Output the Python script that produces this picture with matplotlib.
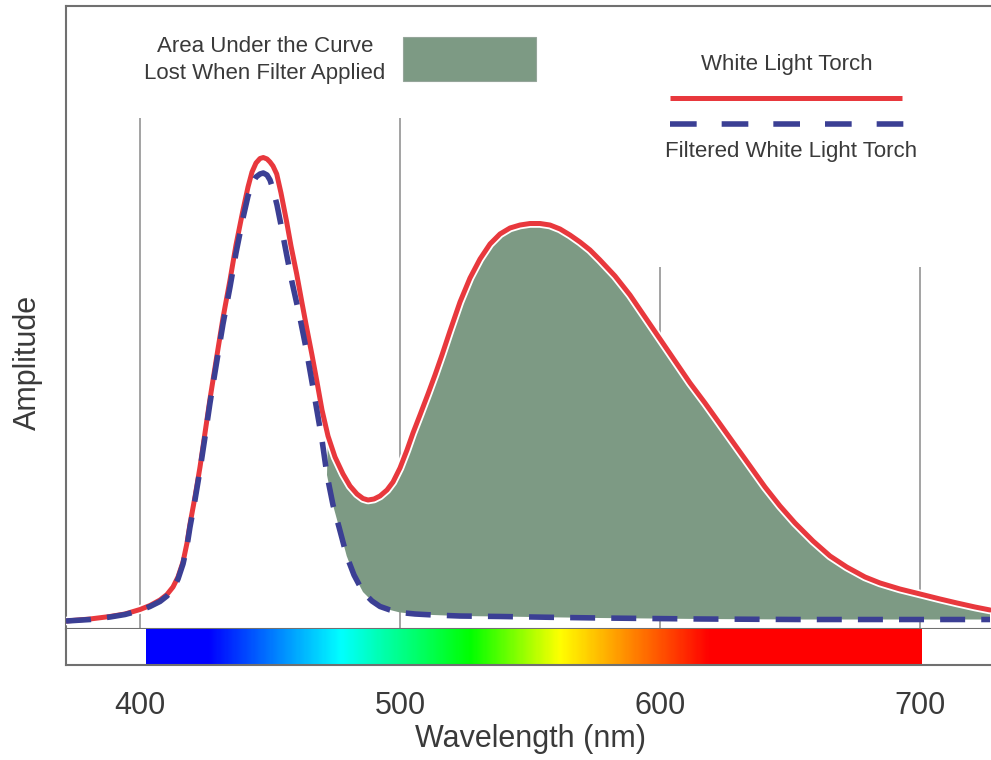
import numpy as np
import matplotlib
matplotlib.use("Agg")
import matplotlib.pyplot as plt
from matplotlib.colors import LinearSegmentedColormap
from matplotlib.lines import Line2D
from matplotlib.patches import Rectangle

plt.rcParams['font.family'] = ['Liberation Sans', 'DejaVu Sans']

# ---------------- data ----------------
white_nm = [371.54, 380.77, 388.46, 394.23, 400.00, 403.85, 407.69, 410.38, 412.69, 414.62,
            416.54, 418.08, 419.23, 421.15, 423.08, 425.00, 426.92, 429.50, 431.92, 434.62,
            436.92, 439.62, 441.54, 443.08, 444.62, 446.15, 447.42, 448.85, 450.00, 451.15,
            452.58, 454.23, 456.42, 458.08, 460.27, 462.31, 464.12, 466.15, 468.08, 470.00,
            472.31, 475.00, 478.08, 480.77, 483.46, 485.77, 487.69, 490.00, 492.31, 495.00,
            497.31, 500.00, 502.69, 505.00, 507.69, 510.77, 513.46, 516.15, 519.23, 523.08,
            526.92, 530.77, 534.62, 538.46, 542.31, 546.15, 550.00, 553.85, 557.69, 561.54,
            565.38, 569.23, 573.08, 576.92, 582.69, 588.46, 594.23, 600.00, 605.77, 611.54,
            617.31, 623.08, 628.85, 634.62, 640.38, 646.15, 651.92, 658.85, 665.38, 671.81,
            678.85, 684.62, 692.31, 700.00, 707.69, 714.23, 721.15, 726.92]
white_amp = [1.69, 2.12, 2.65, 3.18, 4.13, 4.98, 6.14, 7.31, 8.90, 11.02,
             14.19, 18.22, 22.25, 27.97, 34.32, 41.53, 48.73, 57.63, 65.89, 73.94,
             81.36, 88.77, 93.64, 96.82, 98.73, 99.68, 99.89, 99.58, 98.94, 98.09,
             96.40, 92.37, 86.23, 81.14, 75.21, 69.07, 63.77, 58.05, 52.33, 46.40,
             40.89, 36.44, 32.84, 30.30, 28.60, 27.65, 27.33, 27.54, 28.18, 29.45,
             31.14, 34.11, 37.92, 41.53, 45.34, 49.79, 53.81, 58.05, 63.14, 69.28,
             74.36, 78.39, 81.57, 83.69, 84.96, 85.59, 85.91, 85.91, 85.59, 84.75,
             83.47, 81.99, 80.30, 78.18, 74.79, 70.76, 66.10, 61.44, 56.78, 52.12,
             47.88, 43.43, 38.98, 34.53, 30.08, 26.06, 22.46, 18.64, 15.47, 13.14,
             11.02, 9.75, 8.47, 7.42, 6.36, 5.51, 4.66, 4.03]

filtered_nm = [371.54, 380.77, 388.46, 394.23, 400.00, 403.85, 407.69, 410.38, 412.69, 414.62,
               416.54, 418.08, 419.23, 421.15, 423.08, 425.00, 426.92, 429.50, 431.92, 434.62,
               436.92, 439.62, 441.54, 443.08, 444.62, 446.15, 447.42, 448.85, 450.00, 451.15,
               452.69, 454.23, 456.42, 458.46, 461.54, 463.85, 466.15, 468.08, 470.00, 471.92,
               474.23, 476.54, 479.50, 482.31, 485.77, 489.23, 492.31, 496.15, 500.00, 505.77,
               512.69, 523.08, 538.46, 557.69, 576.92, 615.38, 653.85, 726.92]
filtered_amp = [1.69, 2.01, 2.54, 3.07, 3.92, 4.77, 5.83, 6.99, 8.47, 10.59,
                13.77, 17.58, 21.61, 27.33, 33.69, 40.68, 47.88, 56.57, 64.62, 72.46,
                79.66, 87.08, 91.74, 94.28, 95.76, 96.40, 96.61, 96.19, 95.13, 93.22,
                89.83, 85.59, 79.24, 73.52, 65.89, 59.53, 52.33, 46.19, 40.04, 32.63,
                26.27, 21.61, 15.47, 11.44, 7.84, 5.93, 4.77, 4.03, 3.50, 3.18,
                2.97, 2.75, 2.65, 2.48, 2.33, 2.12, 2.01, 2.01]

grid_nm = [400, 500, 600, 700]
grid_top_amp = [108.3, 108.3, 76.7, 76.7]
tick_nm = [400, 500, 600, 700]
tick_labels = ['400', '500', '600', '700']

spectrum_nm = [402.3, 426.0, 477.0, 527.0, 561.5, 619.0, 700.6]
spectrum_colors = ['#0000ff', '#0000ff', '#00ffff', '#00ff00', '#ffff00', '#ff0000', '#ff0000']

series_labels = ['White Light Torch', 'Filtered White Light Torch']
fill_label = 'Area Under the Curve\nLost When Filter Applied'
x_label = 'Wavelength (nm)'
y_label = 'Amplitude'
fill_start_nm = 471.5

# ---------------- styling ----------------
RED = '#e8383d'
BLUE = '#3b3f94'
GREEN = '#7d9a84'
FRAME = '#707070'
GRID = '#8a8a8a'
TEXT = '#3a3a3a'

W, H = 991, 760
fig = plt.figure(figsize=(W / 100, H / 100), dpi=100)


def fx(px):
    return px / W


def fy(py):
    return 1 - py / H


XMIN = 400 - 74 / 2.6
XMAX = 400 + 851 / 2.6
YMAX = (629 - 6) * 100 / 472

ax = fig.add_axes([fx(66), fy(629), fx(991) - fx(66), fy(6) - fy(629)])
ax.set_xlim(XMIN, XMAX)
ax.set_ylim(0, YMAX)
ax.set_xticks([])
ax.set_yticks([])
for s in ['left', 'top', 'bottom']:
    ax.spines[s].set_color(FRAME)
    ax.spines[s].set_linewidth(1.5)
ax.spines['right'].set_visible(False)

# vertical reference lines
ax.vlines(grid_nm, 0, grid_top_amp, colors=GRID, linewidth=1.1, zorder=1)

# lost area polygon (between the two curves)
wn = np.array(white_nm); wa = np.array(white_amp)
fn = np.array(filtered_nm); fa = np.array(filtered_amp)
mw = wn >= fill_start_nm
mf = fn >= fill_start_nm
poly_x = np.concatenate([wn[mw], fn[mf][::-1]])
poly_y = np.concatenate([wa[mw], fa[mf][::-1]])
ax.fill(poly_x, poly_y, color=GREEN, linewidth=0, zorder=2)

# curves
ax.plot(white_nm, white_amp, color='white', linewidth=6.2, zorder=3,
        solid_joinstyle='round', solid_capstyle='round')
ax.plot(white_nm, white_amp, color=RED, linewidth=3.6, zorder=4,
        solid_joinstyle='round', solid_capstyle='round')
ax.plot(filtered_nm, filtered_amp, color=BLUE, linewidth=4.0, zorder=5,
        dashes=(4.5, 2.9), dash_capstyle='butt', dash_joinstyle='round')

# spectrum bar
ax_s = fig.add_axes([fx(66), fy(665), fx(991) - fx(66), fy(629) - fy(665)])
stops = [(v - spectrum_nm[0]) / (spectrum_nm[-1] - spectrum_nm[0]) for v in spectrum_nm]
cmap = LinearSegmentedColormap.from_list('spec', list(zip(stops, spectrum_colors)), N=512)
grad = np.linspace(0, 1, 600).reshape(1, -1)
ax_s.imshow(grad, cmap=cmap, aspect='auto',
            extent=[spectrum_nm[0], spectrum_nm[-1], 0, 1], interpolation='bilinear')
ax_s.set_xlim(XMIN, XMAX)
ax_s.set_ylim(0, 1)
ax_s.set_yticks([])
ax_s.set_xticks(tick_nm, tick_labels)
ax_s.tick_params(axis='x', length=0, pad=18.5, labelsize=22, labelcolor=TEXT)
for s in ['left', 'bottom']:
    ax_s.spines[s].set_color(FRAME)
    ax_s.spines[s].set_linewidth(1.5)
ax_s.spines['top'].set_visible(False)
ax_s.spines['right'].set_visible(False)

# axis labels
fig.text(fx(530.5), fy(747), x_label, ha='center', va='baseline', fontsize=22, color=TEXT)
fig.text(fx(28), fy(362), y_label, ha='center', va='center', rotation=90, fontsize=22, color=TEXT)

# fill legend
lines = fill_label.split('\n')
fig.text(fx(265), fy(52.3), lines[0], ha='center', va='baseline', fontsize=16, color=TEXT)
fig.text(fx(265), fy(79), lines[1], ha='center', va='baseline', fontsize=16, color=TEXT)
fig.patches.append(Rectangle((fx(402.7), fy(81)), fx(536) - fx(402.7), (81 - 36.7) / H,
                             transform=fig.transFigure, facecolor=GREEN,
                             edgecolor='#95a59a', linewidth=0.8))

# line legend
fig.text(fx(786.8), fy(70), series_labels[0], ha='center', va='baseline', fontsize=16, color=TEXT)
fig.lines.append(Line2D([fx(670), fx(902)], [fy(97.5), fy(97.5)], transform=fig.transFigure,
                        color=RED, linewidth=3.6, solid_capstyle='butt'))
fig.lines.append(Line2D([fx(670), fx(904)], [fy(123.5), fy(123.5)], transform=fig.transFigure,
                        color=BLUE, linewidth=4.0, dashes=(4.8, 4.5), dash_capstyle='butt'))
fig.text(fx(791.3), fy(156.7), series_labels[1], ha='center', va='baseline', fontsize=16, color=TEXT)

fig.savefig('out.png', dpi=100)
